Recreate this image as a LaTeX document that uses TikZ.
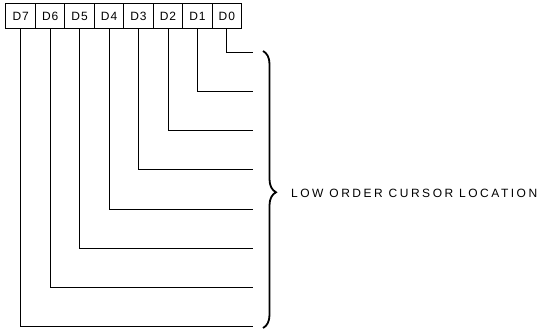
\documentclass[tikz,border=0pt]{standalone}
\usepackage{fontspec}
\setmainfont{Liberation Sans}
\newfontfamily\widefont[LetterSpace=21]{Liberation Sans}
\newfontfamily\bitfont[LetterSpace=8]{Liberation Sans}
\usetikzlibrary{positioning, decorations.pathreplacing}

\begin{document}
\begin{tikzpicture}[x=1pt, y=1pt,
    bitbox/.style={draw, line width=1pt, minimum width=29.45pt,
        minimum height=25pt, inner sep=0pt, font=\fontsize{12}{13}\selectfont\bitfont},
    wire/.style={line width=0.8pt}]

    \useasboundingbox (0,0) rectangle (540,-329);

    % ============================================================
    % DATA BITS D7 ... D0
    % ============================================================
    \foreach \i in {0,...,7} {
        \node[bitbox] (D\i) at ({20.7 + (7-\i)*29.45}, -16.5) {D\i};
        \coordinate (end\i) at (253, {-(52.7 + 39.05*\i)});
    }

    % ============================================================
    % WIRES TO THE RIGHT
    % ============================================================
    \foreach \i in {0,...,7}
        \draw[wire] (D\i.south) |- (end\i);

    % ============================================================
    % BRACE AND LABEL
    % ============================================================
    \coordinate (brtop) at (263,-51);
    \coordinate (brbot) at (263,-328);
    \draw[line width=1.8pt, decorate,
        decoration={brace, amplitude=13pt, aspect=0.51}]
        (brtop) -- (brbot);
    \node[anchor=west, inner sep=0pt, font=\fontsize{12}{13}\selectfont\widefont]
        (lbl) at (291,-193) {LOW ORDER CURSOR LOCATION};

\end{tikzpicture}
\end{document}
